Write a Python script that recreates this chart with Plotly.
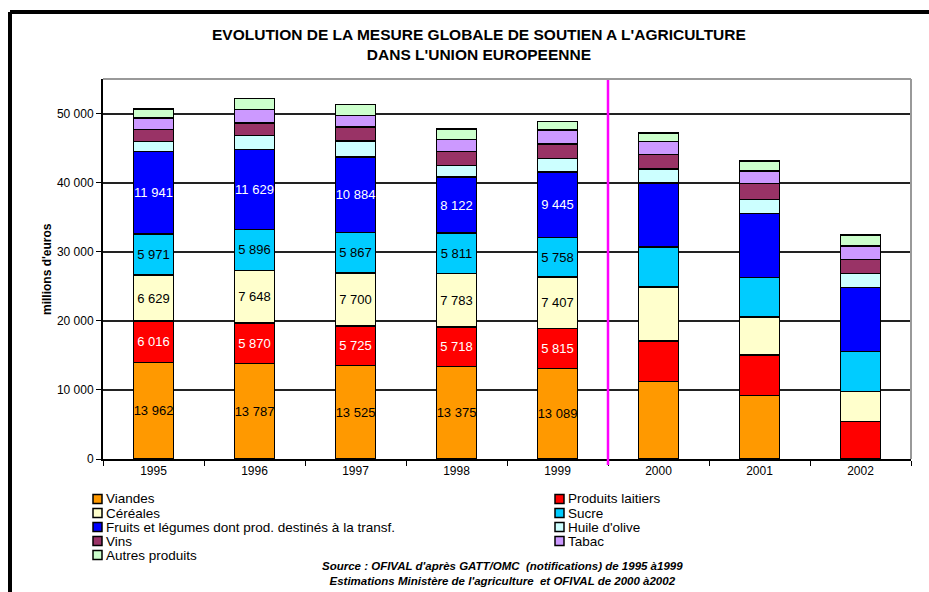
import plotly.graph_objects as go

# Données (millions d'euros)
years = ["1995", "1996", "1997", "1998", "1999", "2000", "2001", "2002"]
viandes = [13962, 13787, 13525, 13375, 13089, 11200, 9200, None]
lait = [6016, 5870, 5725, 5718, 5815, 5900, 5850, 5400]
cereales = [6629, 7648, 7700, 7783, 7407, 7800, 5500, 4350]
sucre = [5971, 5896, 5867, 5811, 5758, 5750, 5750, 5800]
fruits = [11941, 11629, 10884, 8122, 9445, 9300, 9250, 9300]
huile = [1470, 1980, 2290, 1650, 2000, 2000, 2000, 2000]
vins = [1690, 1840, 2030, 2080, 2070, 2100, 2300, 2000]
tabac = [1690, 1930, 1710, 1690, 2030, 1900, 1800, 2000]
autres = [1310, 1590, 1590, 1550, 1200, 1200, 1500, 1600]

n_labelled = 5  # étiquettes seulement pour 1995-1999

series = [
    ("Viandes", viandes, "#FF9900", "black", True),
    ("Produits laitiers", lait, "#FF0000", "white", True),
    ("Céréales", cereales, "#FFFFCC", "black", True),
    ("Sucre", sucre, "#00CCFF", "black", True),
    ("Fruits et légumes dont prod. destinés à la transf.", fruits, "#0000FF", "white", True),
    ("Huile d'olive", huile, "#CCFFFF", "black", False),
    ("Vins", vins, "#993366", "white", False),
    ("Tabac", tabac, "#CC99FF", "black", False),
    ("Autres produits", autres, "#CCFFCC", "black", False),
]

font = "Liberation Sans, Arial, sans-serif"

# Zone de tracé en pixels (pour placer les éléments hors du graphique)
W, H = 929, 592
L, R, T, B = 103, 18, 79, 133
PW, PH = W - L - R, H - T - B


def px(x):
    return (x - L) / PW


def py(y):
    return (H - B - y) / PH


def fmt(v):
    return f"{v:,}".replace(",", " ")


fig = go.Figure()
for name, vals, color, txtcolor, labelled in series:
    if labelled:
        text = [fmt(v) if i < n_labelled and v else "" for i, v in enumerate(vals)]
    else:
        text = None
    fig.add_trace(go.Bar(
        x=years, y=vals, name=name,
        marker=dict(color=color, line=dict(color="black", width=1.5)),
        text=text, textposition="inside", insidetextanchor="middle",
        textangle=0, constraintext="none", cliponaxis=False,
        textfont=dict(family=font, size=13, color=txtcolor),
        hoverinfo="x+y+name", showlegend=False,
    ))

# Légende sur deux colonnes (remplie ligne par ligne)
for i, (name, vals, color, txtcolor, labelled) in enumerate(series):
    col, row = i % 2, i // 2
    sx = 93 if col == 0 else 555
    cy = 499 + 14 * row
    fig.add_shape(type="rect", xref="paper", yref="paper",
                  x0=px(sx), x1=px(sx + 9), y0=py(cy + 4.5), y1=py(cy - 4.5),
                  fillcolor=color, line=dict(color="black", width=1.5))
    fig.add_annotation(text=name, xref="paper", yref="paper",
                       x=px(sx + 11), y=py(cy), xanchor="left", yanchor="middle",
                       showarrow=False, font=dict(family=font, size=13.5, color="black"))

# Ligne de séparation notifications / estimations
fig.add_shape(type="line", xref="x", yref="paper", x0=4.5, x1=4.5, y0=py(465), y1=1,
              line=dict(color="#FF00FF", width=2.5))
# Cadre gris haut et droite de la zone de tracé
fig.add_shape(type="line", xref="paper", yref="paper", x0=0, x1=1, y0=1, y1=1,
              line=dict(color="#999999", width=2))
fig.add_shape(type="line", xref="paper", yref="paper", x0=1, x1=1, y0=0, y1=1,
              line=dict(color="#999999", width=2))
# Bordure extérieure (gauche et haut)
fig.add_shape(type="line", xref="paper", yref="paper", x0=px(10), x1=px(935), y0=py(12), y1=py(12),
              line=dict(color="black", width=4))
fig.add_shape(type="line", xref="paper", yref="paper", x0=px(10), x1=px(10), y0=py(600), y1=py(12),
              line=dict(color="black", width=4))

fig.add_annotation(
    text="<b>EVOLUTION DE LA MESURE GLOBALE DE SOUTIEN A L'AGRICULTURE</b><br>"
         "<b>DANS L'UNION EUROPEENNE</b>",
    xref="paper", yref="paper", x=px(478.5), y=py(45), yanchor="middle",
    showarrow=False, font=dict(family=font, size=15.5, color="black"))
fig.add_annotation(text="<b>millions d'euros</b>", xref="paper", yref="paper",
                   x=px(38), y=0.5, textangle=-90, showarrow=False,
                   font=dict(family=font, size=12, color="black"))
fig.add_annotation(
    text="<b><i>Source : OFIVAL d'après GATT/OMC  (notifications) de 1995 à1999</i></b><br>"
         "<b><i>Estimations Ministère de l'agriculture  et OFIVAL de 2000 à2002</i></b>",
    xref="paper", yref="paper", x=px(502), y=py(573.5), yanchor="middle", showarrow=False,
    font=dict(family=font, size=11.5, color="black"))

fig.update_layout(
    width=W, height=H,
    margin=dict(l=L, r=R, t=T, b=B, autoexpand=False),
    paper_bgcolor="white", plot_bgcolor="white",
    barmode="stack", bargap=0.6,
    separators=", ",
    font=dict(family=font, size=12, color="black"),
    xaxis=dict(
        type="category", tickson="boundaries", ticks="outside", ticklen=5,
        tickcolor="black", showline=True, linecolor="black", linewidth=2,
        showgrid=False, tickfont=dict(size=12),
    ),
    yaxis=dict(
        range=[0, 55000], tickvals=[0, 10000, 20000, 30000, 40000, 50000],
        tickformat=",", ticks="outside", ticklen=5, tickcolor="black",
        showline=True, linecolor="black", linewidth=2,
        showgrid=True, gridcolor="#222222", gridwidth=1.5,
        zeroline=False, tickfont=dict(size=12),
    ),
    showlegend=False,
)

# la page a une marge de 8 px par défaut : on la supprime
fig.write_html("out.html", config={"displayModeBar": False},
               post_script="document.body.style.margin = '0px';")
